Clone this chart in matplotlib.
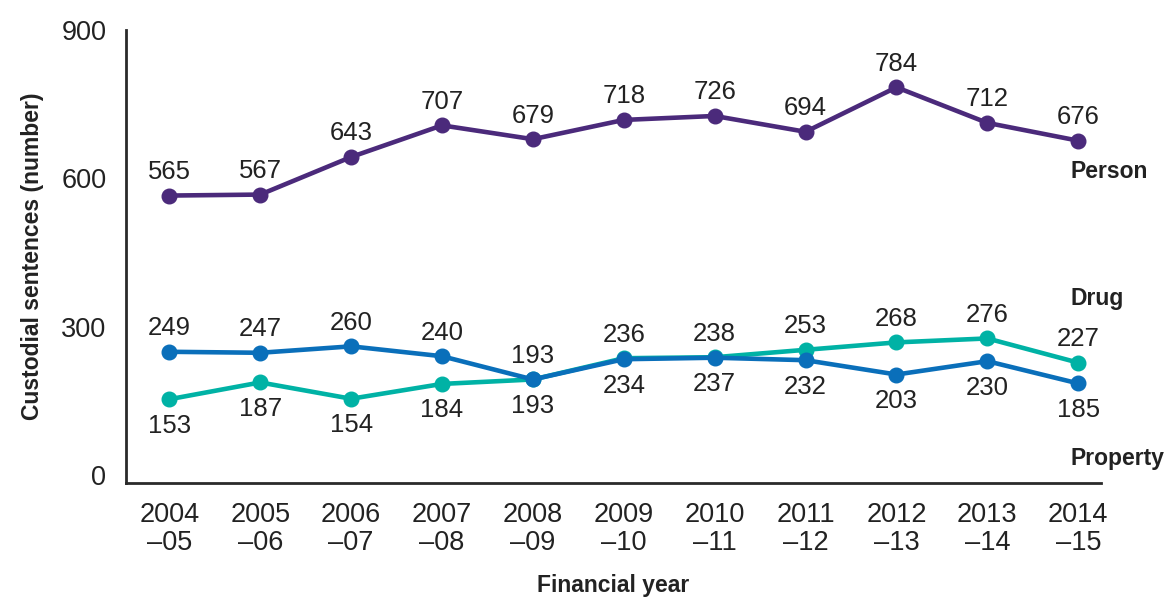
import numpy as np
import matplotlib
matplotlib.use('Agg')
from matplotlib import pyplot as plt

years = ['2004\n\u201305', '2005\n\u201306', '2006\n\u201307', '2007\n\u201308', '2008\n\u201309',
         '2009\n\u201310', '2010\n\u201311', '2011\n\u201312', '2012\n\u201313', '2013\n\u201314',
         '2014\n\u201315']
person = [565, 567, 643, 707, 679, 718, 726, 694, 784, 712, 676]
drug = [153, 187, 154, 184, 193, 236, 238, 253, 268, 276, 227]
property_ = [249, 247, 260, 240, 193, 234, 237, 232, 203, 230, 185]

purple = '#4B2A7B'
teal = '#00B2A5'
blue = '#0A6FBA'
txt = '#222222'

plt.rcParams['font.family'] = ['Liberation Sans', 'DejaVu Sans']

fig = plt.figure(figsize=(11.75, 5.99), dpi=100)
ax = fig.add_axes([0.107, 0.194, 0.83, 0.756])
x = np.arange(len(years))

ax.plot(x, person, color=purple, lw=3.3, marker='o', ms=10.5, zorder=3)
ax.plot(x, drug, color=teal, lw=3.3, marker='o', ms=10.5, zorder=3)
ax.plot(x, property_, color=blue, lw=3.3, marker='o', ms=10.5, zorder=4)

fs = 18.5
for i in range(len(x)):
    ax.annotate(str(person[i]), (x[i], person[i]), xytext=(0, 17), textcoords='offset points',
                ha='center', va='center', fontsize=fs, color=txt)
    if i < 5:
        dy_d, dy_p = -19, 17
    else:
        dy_d, dy_p = 17, -19
    ax.annotate(str(drug[i]), (x[i], drug[i]), xytext=(0, dy_d), textcoords='offset points',
                ha='center', va='center', fontsize=fs, color=txt)
    ax.annotate(str(property_[i]), (x[i], property_[i]), xytext=(0, dy_p), textcoords='offset points',
                ha='center', va='center', fontsize=fs, color=txt)

# series names at right
ax.text(9.92, 613, 'Person', fontsize=16.5, fontweight='bold', color=txt, va='center', ha='left')
ax.text(9.92, 356, 'Drug', fontsize=16.5, fontweight='bold', color=txt, va='center', ha='left')
ax.text(9.92, 34, 'Property', fontsize=16.5, fontweight='bold', color=txt, va='center', ha='left')

ax.set_xlim(-0.48, 10.25)
ax.set_ylim(-16, 900)
ax.set_yticks([0, 300, 600, 900])
ax.set_xticks(x)
ax.set_xticklabels(years)
ax.tick_params(axis='both', length=0, labelsize=19.5, colors=txt)
ax.tick_params(axis='x', pad=14)
ax.tick_params(axis='y', pad=14)
for lbl in ax.get_xticklabels():
    lbl.set_linespacing(1.1)

for s in ['top', 'right']:
    ax.spines[s].set_visible(False)
for s in ['left', 'bottom']:
    ax.spines[s].set_linewidth(2)
    ax.spines[s].set_color('#2a2a2a')

ax.set_ylabel('Custodial sentences (number)', fontsize=16.5, fontweight='bold', color=txt, labelpad=12)
ax.set_xlabel('Financial year', fontsize=16.5, fontweight='bold', color=txt, labelpad=13)

fig.savefig('out.png', dpi=100)
